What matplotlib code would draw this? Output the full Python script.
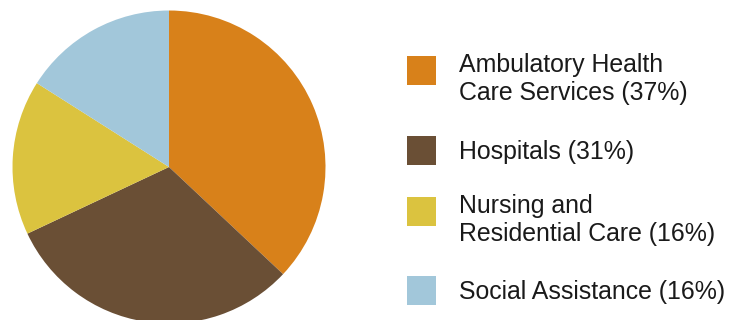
# Pie chart of employment share by health care subsector, with a side legend
import matplotlib.pyplot as plt
from matplotlib.patches import Rectangle

# data
labels  = ["Ambulatory Health\nCare Services (37%)",
           "Hospitals (31%)",
           "Nursing and\nResidential Care (16%)",
           "Social Assistance (16%)"]
shares  = [37, 31, 16, 16]
colors  = ["#D8811A", "#6A4F35", "#DBC33F", "#A2C7DA"]

W, H = 743, 320
plt.rcParams['font.family'] = ['Liberation Sans', 'DejaVu Sans']

fig = plt.figure(figsize=(W / 100, H / 100), dpi=100)
ax  = fig.add_axes([0, 0, 1, 1])

# pie in pixel-like data coordinates (y measured upward)
ax.pie(shares, colors=colors, startangle=90, counterclock=False,
       center=(169, H - 167), radius=156.5,
       wedgeprops=dict(linewidth=0))
ax.set_xlim(0, W)
ax.set_ylim(0, H)
ax.set_aspect('equal')
ax.axis('off')

# legend: swatches and labels
sq_x, sq_size, txt_x = 407, 29, 459
sq_tops = [56, 136, 197, 276]
for top, lab, col in zip(sq_tops, labels, colors):
    ax.add_patch(Rectangle((sq_x, H - top - sq_size), sq_size, sq_size,
                           facecolor=col, edgecolor='none'))
    lines = lab.split("\n")
    if len(lines) == 1:
        base = top + sq_size / 2 + 8
    else:
        base = top + 16
    for i, line in enumerate(lines):
        ax.text(txt_x, H - (base + 28 * i), line, fontsize=17.9,
                color="#1a1a1a", ha='left', va='baseline')

fig.savefig("out.png", dpi=100)
